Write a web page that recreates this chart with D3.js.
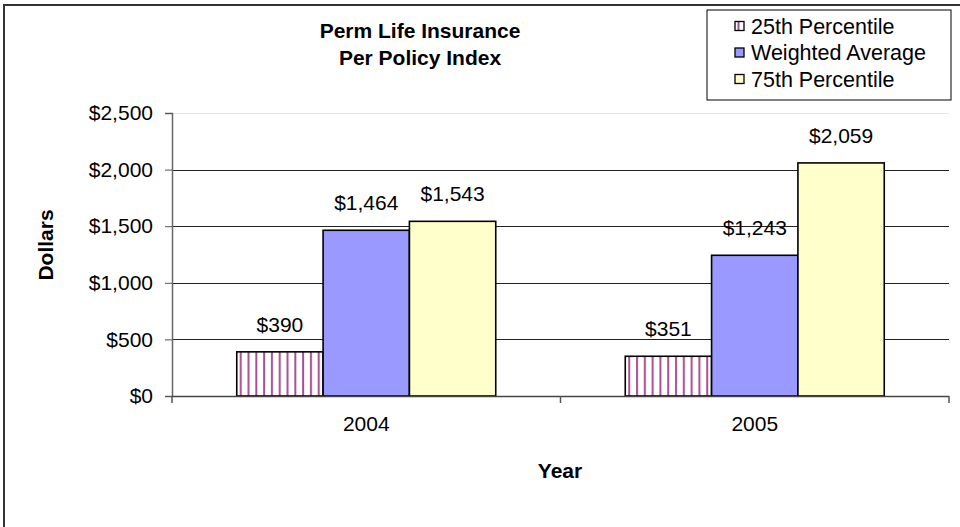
<!DOCTYPE html>
<meta charset="utf-8">
<head>
    <title>Perm Life Insurance</title>
    <style>
        body { margin: 0; background: #fff; }
        text { font-family: "Liberation Sans", Arial, sans-serif; fill: #000; }
        .bold { font-weight: bold; }
    </style>
</head>
<script src="https://d3js.org/d3.v7.min.js"></script>
<svg id="chart" width="960" height="527"></svg>

<script>
    // data
    const years = ["2004", "2005"]
    const seriesNames = ["25th Percentile", "Weighted Average", "75th Percentile"]
    const p25 = [390, 351]
    const weighted = [1464, 1243]
    const p75 = [1543, 2059]
    const yTicks = [0, 500, 1000, 1500, 2000, 2500]

    const seriesValues = [p25, weighted, p75]
    const seriesFill = ["url(#vstripe)", "#9999ff", "#ffffcc"]
    const fs = "21px"

    const svg = d3.select("#chart")

    // stripe pattern for the 25th percentile bars
    const defs = svg.append("defs")
    const pat = defs.append("pattern")
        .attr("id", "vstripe")
        .attr("patternUnits", "userSpaceOnUse")
        .attr("width", 7.8)
        .attr("height", 10)
    pat.append("rect").attr("width", 7.8).attr("height", 10).attr("fill", "#fff")
    pat.append("rect").attr("x", 3).attr("width", 2).attr("height", 10).attr("fill", "#a8508c")

    // legend swatch uses a tighter stripe
    const pat2 = defs.append("pattern")
        .attr("id", "vstripeSmall")
        .attr("patternUnits", "userSpaceOnUse")
        .attr("width", 9)
        .attr("height", 9)
    pat2.append("rect").attr("width", 9).attr("height", 9).attr("fill", "#fff")
    pat2.append("rect").attr("x", 3.5).attr("width", 2).attr("height", 9).attr("fill", "#a8508c")

    // outer frame (right and bottom edges fall outside the picture)
    svg.append("rect")
        .attr("x", 4).attr("y", 5)
        .attr("width", 1000).attr("height", 600)
        .attr("fill", "none")
        .attr("stroke", "#333")
        .attr("stroke-width", 2)

    const margin = { left: 172, right: 949, top: 113, bottom: 396 }

    const x0 = d3.scaleBand()
        .domain(years)
        .range([margin.left, margin.right])

    // gap width 50%: group occupies band / 1.5
    const groupW = x0.bandwidth() / 1.5
    const x1 = d3.scaleBand()
        .domain(seriesNames)
        .range([0, groupW])

    const y = d3.scaleLinear()
        .domain([0, 2500])
        .range([margin.bottom, margin.top])

    // gridlines
    svg.append("g")
        .selectAll("line")
        .data(yTicks.filter(d => d > 0))
        .join("line")
        .attr("x1", margin.left).attr("x2", margin.right)
        .attr("y1", d => Math.round(y(d)) + 0.5).attr("y2", d => Math.round(y(d)) + 0.5)
        .attr("stroke", d => d === 2500 ? "#e4e4e4" : "#222")
        .attr("stroke-width", 1)

    // bars
    const groups = svg.append("g")
        .selectAll("g")
        .data(years)
        .join("g")
        .attr("transform", (d) => "translate(" + (x0(d) + (x0.bandwidth() - groupW) / 2) + ",0)")

    const rows = (d, i) => seriesNames.map((s, k) => ({ s: s, k: k, v: seriesValues[k][i] }))

    groups.selectAll("rect")
        .data(rows)
        .join("rect")
        .attr("x", d => x1(d.s))
        .attr("y", d => y(d.v))
        .attr("width", x1.bandwidth())
        .attr("height", d => y(0) - y(d.v))
        .attr("fill", d => seriesFill[d.k])
        .attr("stroke", "#000")
        .attr("stroke-width", 1.6)

    // value labels
    groups.selectAll("text")
        .data(rows)
        .join("text")
        .attr("x", d => x1(d.s) + x1.bandwidth() / 2)
        .attr("y", d => y(d.v) - 20)
        .attr("text-anchor", "middle")
        .style("font-size", fs)
        .text(d => "$" + d3.format(",")(d.v))

    // y axis
    const yAxis = svg.append("g")
        .attr("transform", "translate(" + margin.left + ",0)")
        .call(d3.axisLeft(y).tickValues(yTicks).tickSize(7).tickPadding(12)
            .tickFormat(d => "$" + d3.format(",")(d)))
    yAxis.select(".domain").attr("stroke", "#666").attr("stroke-width", 1.5)
    yAxis.selectAll(".tick line").attr("stroke", "#555")
    yAxis.selectAll("text").style("font-size", fs).style("font-family", "Liberation Sans, Arial, sans-serif").attr("fill", "#000")

    // x axis: category boundaries as ticks
    const xAxisG = svg.append("g")
    xAxisG.append("line")
        .attr("x1", margin.left).attr("x2", margin.right)
        .attr("y1", margin.bottom + 0.5).attr("y2", margin.bottom + 0.5)
        .attr("stroke", "#444").attr("stroke-width", 1.5)
    const bounds = years.map(d => x0(d)).concat([x0(years[years.length - 1]) + x0.bandwidth()])
    xAxisG.selectAll(".xt")
        .data(bounds)
        .join("line")
        .attr("class", "xt")
        .attr("x1", d => d).attr("x2", d => d)
        .attr("y1", margin.bottom).attr("y2", margin.bottom + 7)
        .attr("stroke", "#555").attr("stroke-width", 1.5)
    xAxisG.selectAll("text")
        .data(years)
        .join("text")
        .attr("x", d => x0(d) + x0.bandwidth() / 2)
        .attr("y", 431)
        .attr("text-anchor", "middle")
        .style("font-size", fs)
        .text(d => d)

    // titles
    svg.append("text").attr("class", "bold")
        .attr("x", 420).attr("y", 38).attr("text-anchor", "middle")
        .style("font-size", fs).text("Perm Life Insurance")
    svg.append("text").attr("class", "bold")
        .attr("x", 420).attr("y", 65).attr("text-anchor", "middle")
        .style("font-size", fs).text("Per Policy Index")

    svg.append("text").attr("class", "bold")
        .attr("transform", "translate(53,245) rotate(-90)")
        .attr("text-anchor", "middle")
        .style("font-size", fs).text("Dollars")

    svg.append("text").attr("class", "bold")
        .attr("x", 560).attr("y", 478).attr("text-anchor", "middle")
        .style("font-size", fs).text("Year")

    // legend
    const legendFill = ["url(#vstripeSmall)", "#9999ff", "#ffffcc"]
    const legend = svg.append("g").attr("transform", "translate(707,10)")
    legend.append("rect")
        .attr("width", 244).attr("height", 90)
        .attr("fill", "#fff").attr("stroke", "#000").attr("stroke-width", 1)
    const items = legend.selectAll(".item")
        .data(seriesNames)
        .join("g")
        .attr("class", "item")
        .attr("transform", (d, i) => "translate(0," + (16 + i * 26.5) + ")")
    items.append("rect")
        .attr("x", 28).attr("y", -4.5)
        .attr("width", 9).attr("height", 9)
        .attr("fill", (d, i) => legendFill[i])
        .attr("stroke", "#000").attr("stroke-width", 1.3)
    items.append("text")
        .attr("x", 44).attr("y", 7.5)
        .style("font-size", "21.5px")
        .text(d => d)
</script>
